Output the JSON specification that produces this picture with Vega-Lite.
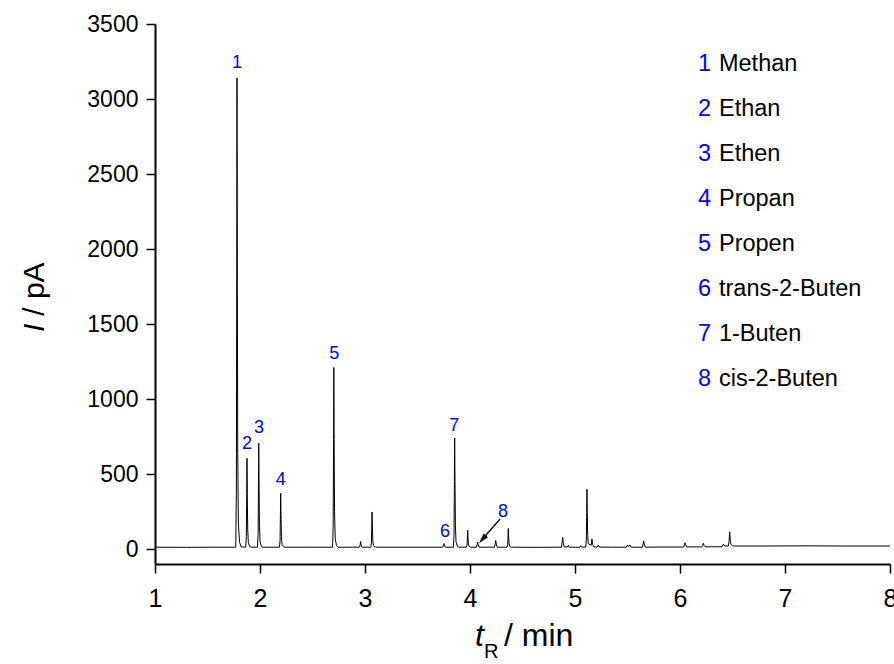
{
  "$schema": "https://vega.github.io/schema/vega-lite/v6.json",
  "width": 735,
  "height": 540,
  "autosize": "none",
  "padding": {"left": 155, "top": 24, "right": 4, "bottom": 100},
  "background": "white",
  "config": {"view": {"stroke": null}, "font": "Liberation Sans"},
  "datasets": {
    "chrom": [
      {"t": 1.0, "v": 12}, {"t": 1.3, "v": 11}, {"t": 1.6, "v": 12}, {"t": 1.769, "v": 12},
      {"t": 1.775, "v": 387}, {"t": 1.7785, "v": 1889}, {"t": 1.781, "v": 3140}, {"t": 1.784, "v": 1889},
      {"t": 1.788, "v": 638}, {"t": 1.794, "v": 168}, {"t": 1.806, "v": 43}, {"t": 1.821, "v": 14},
      {"t": 1.864, "v": 12}, {"t": 1.870, "v": 83}, {"t": 1.8735, "v": 368}, {"t": 1.876, "v": 605},
      {"t": 1.879, "v": 368}, {"t": 1.883, "v": 131}, {"t": 1.889, "v": 42}, {"t": 1.901, "v": 18}, {"t": 1.916, "v": 12},
      {"t": 1.976, "v": 12}, {"t": 1.982, "v": 95}, {"t": 1.9855, "v": 428}, {"t": 1.988, "v": 705},
      {"t": 1.991, "v": 428}, {"t": 1.995, "v": 151}, {"t": 2.001, "v": 47}, {"t": 2.013, "v": 19}, {"t": 2.028, "v": 12},
      {"t": 2.185, "v": 12}, {"t": 2.191, "v": 55}, {"t": 2.1945, "v": 228}, {"t": 2.197, "v": 372},
      {"t": 2.200, "v": 228}, {"t": 2.204, "v": 84}, {"t": 2.210, "v": 30}, {"t": 2.222, "v": 16}, {"t": 2.237, "v": 12},
      {"t": 2.45, "v": 12},
      {"t": 2.691, "v": 12}, {"t": 2.697, "v": 156}, {"t": 2.7005, "v": 731}, {"t": 2.703, "v": 1210},
      {"t": 2.706, "v": 731}, {"t": 2.710, "v": 252}, {"t": 2.716, "v": 72}, {"t": 2.728, "v": 24}, {"t": 2.743, "v": 12},
      {"t": 2.946, "v": 12}, {"t": 2.953, "v": 25}, {"t": 2.958, "v": 50}, {"t": 2.963, "v": 27}, {"t": 2.972, "v": 12},
      {"t": 3.055, "v": 12}, {"t": 3.061, "v": 40}, {"t": 3.0645, "v": 153}, {"t": 3.067, "v": 247},
      {"t": 3.070, "v": 153}, {"t": 3.074, "v": 59}, {"t": 3.080, "v": 24}, {"t": 3.092, "v": 14}, {"t": 3.107, "v": 12},
      {"t": 3.4, "v": 12},
      {"t": 3.740, "v": 12}, {"t": 3.747, "v": 22}, {"t": 3.752, "v": 37}, {"t": 3.757, "v": 22}, {"t": 3.766, "v": 12},
      {"t": 3.842, "v": 12}, {"t": 3.848, "v": 99}, {"t": 3.8515, "v": 449}, {"t": 3.854, "v": 740},
      {"t": 3.857, "v": 449}, {"t": 3.861, "v": 158}, {"t": 3.867, "v": 48}, {"t": 3.879, "v": 19}, {"t": 3.894, "v": 12},
      {"t": 3.966, "v": 12}, {"t": 3.972, "v": 26}, {"t": 3.9755, "v": 80}, {"t": 3.978, "v": 125},
      {"t": 3.981, "v": 80}, {"t": 3.985, "v": 35}, {"t": 3.991, "v": 18}, {"t": 4.005, "v": 12},
      {"t": 4.061, "v": 12}, {"t": 4.068, "v": 27}, {"t": 4.073, "v": 45}, {"t": 4.078, "v": 28}, {"t": 4.087, "v": 12},
      {"t": 4.233, "v": 12}, {"t": 4.240, "v": 32}, {"t": 4.245, "v": 57}, {"t": 4.250, "v": 33}, {"t": 4.259, "v": 12},
      {"t": 4.353, "v": 12}, {"t": 4.359, "v": 27}, {"t": 4.3625, "v": 87}, {"t": 4.365, "v": 137},
      {"t": 4.368, "v": 87}, {"t": 4.372, "v": 37}, {"t": 4.378, "v": 18}, {"t": 4.392, "v": 12},
      {"t": 4.6, "v": 11},
      {"t": 4.871, "v": 12}, {"t": 4.878, "v": 42}, {"t": 4.883, "v": 78}, {"t": 4.888, "v": 40}, {"t": 4.897, "v": 14},
      {"t": 4.930, "v": 14}, {"t": 4.937, "v": 25}, {"t": 4.945, "v": 12},
      {"t": 5.045, "v": 12}, {"t": 5.054, "v": 22}, {"t": 5.062, "v": 13},
      {"t": 5.102, "v": 13}, {"t": 5.108, "v": 59}, {"t": 5.1115, "v": 244}, {"t": 5.114, "v": 398},
      {"t": 5.117, "v": 244}, {"t": 5.121, "v": 90}, {"t": 5.127, "v": 35},
      {"t": 5.155, "v": 25}, {"t": 5.162, "v": 67}, {"t": 5.168, "v": 30}, {"t": 5.178, "v": 15},
      {"t": 5.212, "v": 13}, {"t": 5.222, "v": 27}, {"t": 5.232, "v": 13},
      {"t": 5.35, "v": 12},
      {"t": 5.490, "v": 12}, {"t": 5.500, "v": 27}, {"t": 5.512, "v": 16}, {"t": 5.524, "v": 27}, {"t": 5.536, "v": 12},
      {"t": 5.642, "v": 12}, {"t": 5.649, "v": 32}, {"t": 5.654, "v": 55}, {"t": 5.659, "v": 34}, {"t": 5.670, "v": 12},
      {"t": 5.8, "v": 13},
      {"t": 6.034, "v": 13}, {"t": 6.042, "v": 26}, {"t": 6.048, "v": 42}, {"t": 6.054, "v": 28}, {"t": 6.066, "v": 14},
      {"t": 6.208, "v": 14}, {"t": 6.216, "v": 24}, {"t": 6.222, "v": 38}, {"t": 6.228, "v": 25}, {"t": 6.240, "v": 15},
      {"t": 6.400, "v": 15}, {"t": 6.413, "v": 32}, {"t": 6.425, "v": 20},
      {"t": 6.461, "v": 20}, {"t": 6.467, "v": 50}, {"t": 6.4705, "v": 87}, {"t": 6.473, "v": 115},
      {"t": 6.476, "v": 90}, {"t": 6.480, "v": 50}, {"t": 6.487, "v": 30}, {"t": 6.500, "v": 22}, {"t": 6.52, "v": 20},
      {"t": 6.8, "v": 20}, {"t": 7.2, "v": 21}, {"t": 7.6, "v": 20}, {"t": 8.0, "v": 20}
    ],
    "peaks": [
      {"lab": "1", "t": 1.78, "v": 3243},
      {"lab": "2", "t": 1.876, "v": 700},
      {"lab": "3", "t": 1.99, "v": 810},
      {"lab": "4", "t": 2.197, "v": 459},
      {"lab": "5", "t": 2.708, "v": 1303},
      {"lab": "6", "t": 3.762, "v": 115},
      {"lab": "7", "t": 3.85, "v": 820},
      {"lab": "8", "t": 4.314, "v": 245}
    ],
    "legend": [
      {"n": "1", "name": "Methan", "v": 3235},
      {"n": "2", "name": "Ethan", "v": 2935},
      {"n": "3", "name": "Ethen", "v": 2635},
      {"n": "4", "name": "Propan", "v": 2335},
      {"n": "5", "name": "Propen", "v": 2035},
      {"n": "6", "name": "trans-2-Buten", "v": 1735},
      {"n": "7", "name": "1-Buten", "v": 1435},
      {"n": "8", "name": "cis-2-Buten", "v": 1135}
    ],
    "arrow": [
      {"t": 4.286, "v": 200, "t2": 4.124, "v2": 70}
    ],
    "arrowhead": [
      {"t": 4.118, "v": 65}
    ]
  },
  "layer": [
    {
      "data": {"name": "chrom"},
      "mark": {"type": "line", "color": "black", "strokeWidth": 1, "interpolate": "linear"},
      "encoding": {
        "x": {
          "field": "t", "type": "quantitative",
          "scale": {"domain": [1, 8], "nice": false, "zero": false},
          "axis": {
            "title": null,
            "values": [1, 1.5, 2, 2.5, 3, 3.5, 4, 4.5, 5, 5.5, 6, 6.5, 7, 7.5, 8],
            "format": "d",
            "labelExpr": "datum.value % 1 === 0 ? datum.label : ''",
            "labelOverlap": false, "labelFlush": false, "grid": false,
            "domainColor": "black", "domainWidth": 2,
            "tickColor": "black", "tickWidth": 1.5,
            "tickSize": {"condition": {"test": "datum.value % 1 === 0", "value": 9}, "value": 5},
            "labelFont": "'Liberation Sans Narrow', 'Liberation Sans'", "labelFontSize": 25, "labelColor": "black", "labelPadding": 13
          }
        },
        "y": {
          "field": "v", "type": "quantitative",
          "scale": {"domain": [-100, 3500], "nice": false, "zero": false},
          "axis": {
            "title": null,
            "values": [0, 250, 500, 750, 1000, 1250, 1500, 1750, 2000, 2250, 2500, 2750, 3000, 3250, 3500],
            "format": "d",
            "labelExpr": "datum.value % 500 === 0 ? datum.label : ''",
            "labelOverlap": false, "labelFlush": false, "grid": false,
            "domainColor": "black", "domainWidth": 2,
            "tickColor": "black", "tickWidth": 1.5,
            "tickSize": {"condition": {"test": "datum.value % 500 === 0", "value": 9}, "value": 5},
            "labelFont": "Liberation Sans", "labelFontSize": 23, "labelColor": "black", "labelPadding": 8
          }
        }
      }
    },
    {
      "mark": {"type": "rule", "color": "#8c8c8c", "strokeWidth": 1.5},
      "encoding": {"x": {"datum": 8, "type": "quantitative"}}
    },
    {
      "data": {"name": "peaks"},
      "mark": {"type": "text", "color": "#0000ff", "fontSize": 18, "font": "Liberation Sans", "align": "center", "baseline": "middle"},
      "encoding": {
        "x": {"field": "t", "type": "quantitative"},
        "y": {"field": "v", "type": "quantitative"},
        "text": {"field": "lab"}
      }
    },
    {
      "data": {"name": "legend"},
      "mark": {"type": "text", "color": "#0000ff", "fontSize": 23.5, "font": "Liberation Sans", "align": "left", "baseline": "middle"},
      "encoding": {
        "x": {"datum": 6.171, "type": "quantitative"},
        "y": {"field": "v", "type": "quantitative"},
        "text": {"field": "n"}
      }
    },
    {
      "data": {"name": "legend"},
      "mark": {"type": "text", "color": "black", "fontSize": 23.5, "font": "Liberation Sans", "align": "left", "baseline": "middle"},
      "encoding": {
        "x": {"datum": 6.371, "type": "quantitative"},
        "y": {"field": "v", "type": "quantitative"},
        "text": {"field": "name"}
      }
    },
    {
      "data": {"name": "arrow"},
      "mark": {"type": "rule", "color": "black", "strokeWidth": 1.3},
      "encoding": {
        "x": {"field": "t", "type": "quantitative"},
        "y": {"field": "v", "type": "quantitative"},
        "x2": {"field": "t2"},
        "y2": {"field": "v2"}
      }
    },
    {
      "data": {"name": "arrowhead"},
      "mark": {"type": "point", "shape": "M0,-1L0.55,1L-0.55,1Z", "filled": true, "color": "black", "opacity": 1, "size": 110, "angle": 221},
      "encoding": {
        "x": {"field": "t", "type": "quantitative"},
        "y": {"field": "v", "type": "quantitative"}
      }
    },
    {
      "data": {"values": [{"s": "I", "t": -0.143, "v": 1447}]},
      "mark": {"type": "text", "fontSize": 30, "fontStyle": "italic", "font": "Liberation Sans", "color": "black", "angle": 270, "align": "left", "baseline": "middle"},
      "encoding": {
        "x": {"field": "t", "type": "quantitative"},
        "y": {"field": "v", "type": "quantitative"},
        "text": {"field": "s"}
      }
    },
    {
      "data": {"values": [{"s": "/ pA", "t": -0.143, "v": 1555}]},
      "mark": {"type": "text", "fontSize": 30, "font": "Liberation Sans", "color": "black", "angle": 270, "align": "left", "baseline": "middle"},
      "encoding": {
        "x": {"field": "t", "type": "quantitative"},
        "y": {"field": "v", "type": "quantitative"},
        "text": {"field": "s"}
      }
    },
    {
      "data": {"values": [{"s": "t", "t": 4.048, "v": -645}]},
      "mark": {"type": "text", "fontSize": 32, "fontStyle": "italic", "font": "Liberation Sans", "color": "black", "align": "left", "baseline": "alphabetic"},
      "encoding": {
        "x": {"field": "t", "type": "quantitative"},
        "y": {"field": "v", "type": "quantitative"},
        "text": {"field": "s"}
      }
    },
    {
      "data": {"values": [{"s": "R", "t": 4.133, "v": -725}]},
      "mark": {"type": "text", "fontSize": 20, "font": "Liberation Sans", "color": "black", "align": "left", "baseline": "alphabetic"},
      "encoding": {
        "x": {"field": "t", "type": "quantitative"},
        "y": {"field": "v", "type": "quantitative"},
        "text": {"field": "s"}
      }
    },
    {
      "data": {"values": [{"s": "/ min", "t": 4.324, "v": -645}]},
      "mark": {"type": "text", "fontSize": 32, "font": "Liberation Sans", "color": "black", "align": "left", "baseline": "alphabetic"},
      "encoding": {
        "x": {"field": "t", "type": "quantitative"},
        "y": {"field": "v", "type": "quantitative"},
        "text": {"field": "s"}
      }
    }
  ]
}
